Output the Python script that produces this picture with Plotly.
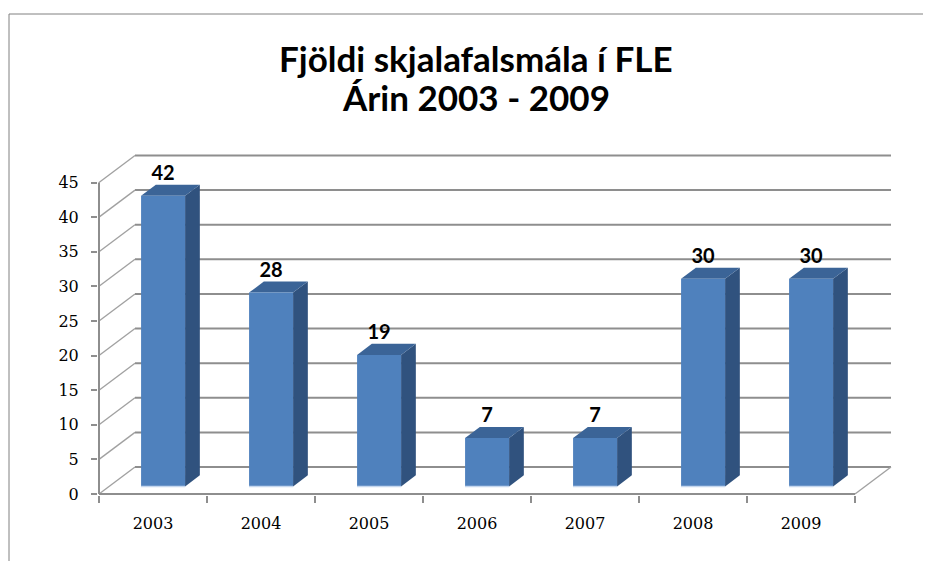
import plotly.graph_objects as go

# ---- data ----
years = ["2003", "2004", "2005", "2006", "2007", "2008", "2009"]
counts = [42, 28, 19, 7, 7, 30, 30]
y_ticks = [0, 5, 10, 15, 20, 25, 30, 35, 40, 45]
title_lines = ["Fjöldi skjalafalsmála í FLE", "Árin 2003 - 2009"]

# ---- geometry (style constants) ----
OFF = 8                      # browser body margin
W, H = 931 - OFF, 561 - OFF
PXX = 108.0      # px per category
PXY = 6.922      # px per unit
DX = 36 / PXX    # depth offset in x units
DY = 27 / PXY    # depth offset in y units
BW = 44 / PXX    # bar width
ZF, ZB = 0.28, 0.69   # bar front/back depth fractions

AX0 = 99 - OFF   # front y-axis px
ZERO = 494 - OFF # front zero px
L, R, T, B = 98 - OFF, 894 - OFF, 152 - OFF, 495 - OFF
x0 = -0.5 - (AX0 - L) / PXX
x1 = -0.5 + (R - AX0) / PXX
y0 = -(B - ZERO) / PXY
y1 = (ZERO - T) / PXY

n = len(years)
xs = list(range(n))
ymax = y_ticks[-1]
GRID = "#8e8e8e"

fig = go.Figure()

def seg_trace(segs, color, width):
    X, Y = [], []
    for (a, b), (c, d) in segs:
        X += [a, c, None]
        Y += [b, d, None]
    fig.add_trace(go.Scatter(x=X, y=Y, mode="lines", line=dict(color=color, width=width),
                             hoverinfo="skip", showlegend=False))

# back wall gridlines
seg_trace([((-0.5 + DX, k + DY), (n - 0.5 + DX, k + DY)) for k in y_ticks], GRID, 2)
# left wall diagonals
seg_trace([((-0.5, k), (-0.5 + DX, k + DY)) for k in y_ticks], "#a0a0a0", 1.3)
# floor right edge
seg_trace([((n - 0.5, 0), (n - 0.5 + DX, DY))], "#a0a0a0", 1.3)

# bars
for i, v in zip(xs, counts):
    xl = i - BW / 2 + ZF * DX
    xr = i + BW / 2 + ZF * DX
    yb = ZF * DY
    yt = v + ZF * DY
    ddx = (ZB - ZF) * DX
    ddy = (ZB - ZF) * DY
    fig.add_trace(go.Scatter(x=[xr, xr + ddx, xr + ddx, xr, xr], y=[yb, yb + ddy, yt + ddy, yt, yb],
                             fill="toself", fillcolor="#30527e", line=dict(width=0), mode="lines",
                             hoverinfo="skip", showlegend=False))
    fig.add_trace(go.Scatter(x=[xl, xr, xr + ddx, xl + ddx, xl], y=[yt, yt, yt + ddy, yt + ddy, yt],
                             fill="toself", fillcolor="#3b6497", line=dict(width=0), mode="lines",
                             hoverinfo="skip", showlegend=False))
    fig.add_trace(go.Scatter(x=[xl, xr, xr, xl, xl], y=[yb, yb, yt, yt, yb],
                             fill="toself", fillcolor="#4f81bd", line=dict(width=0), mode="lines",
                             hoverinfo="skip", showlegend=False))
    fig.add_trace(go.Scatter(x=[xl, xr], y=[yb, yb], mode="lines", line=dict(color="#c5d7ee", width=1.5),
                             hoverinfo="skip", showlegend=False))

# front axis lines
seg_trace([((-0.5, 0), (-0.5, ymax)), ((-0.5, 0), (n - 0.5, 0))], GRID, 2)

# data labels
fig.add_trace(go.Scatter(x=[i + ZF * DX for i in xs], y=[v + ZB * DY for v in counts],
                         mode="text", text=[str(v) for v in counts], textposition="top center",
                         textfont=dict(family="Lato", size=20, color="black", weight="bold"),
                         hoverinfo="skip", showlegend=False, cliponaxis=False))

tfont = dict(family="Lato", size=35, color="black", weight="bold")
fig.update_layout(
    width=W, height=H,
    margin=dict(l=L, r=W - R, t=T, b=H - B, pad=0),
    paper_bgcolor="white", plot_bgcolor="white",
    annotations=[
        dict(text=title_lines[0], xref="paper", yref="paper",
             x=(476 - OFF - L) / (R - L), y=(B - (58 - OFF)) / (B - T),
             xanchor="center", yanchor="middle", showarrow=False, font=tfont),
        dict(text=title_lines[1], xref="paper", yref="paper",
             x=(476 - OFF - L) / (R - L), y=(B - (97 - OFF)) / (B - T),
             xanchor="center", yanchor="middle", showarrow=False, font=tfont),
    ],
    xaxis=dict(range=[x0, x1], tickmode="array", tickvals=xs, ticktext=years, ticks="",
               showgrid=False, zeroline=False, showline=False,
               tickfont=dict(family="DejaVu Serif", size=16, color="black"),
               ticklabelstandoff=17,
               minor=dict(tickmode="array", tickvals=[i - 0.5 for i in range(n + 1)],
                          ticks="outside", ticklen=7, tickwidth=2, tickcolor=GRID, showgrid=False)),
    yaxis=dict(range=[y0, y1], tickmode="array", tickvals=y_ticks, ticks="outside",
               ticklen=6, tickwidth=2, tickcolor=GRID,
               showgrid=False, zeroline=False, showline=False,
               tickfont=dict(family="DejaVu Serif", size=16, color="black"),
               ticklabelstandoff=9),
    shapes=[
        dict(type="line", xref="paper", yref="paper",
             x0=(9 - OFF - L) / (R - L), x1=1.2, y0=(B - (14 - OFF)) / (B - T), y1=(B - (14 - OFF)) / (B - T),
             line=dict(color="#808080", width=1)),
        dict(type="line", xref="paper", yref="paper",
             x0=(9 - OFF - L) / (R - L), x1=(9 - OFF - L) / (R - L), y0=(B - (14 - OFF)) / (B - T), y1=-0.4,
             line=dict(color="#808080", width=1)),
    ],
)

fig.write_html("out.html")
